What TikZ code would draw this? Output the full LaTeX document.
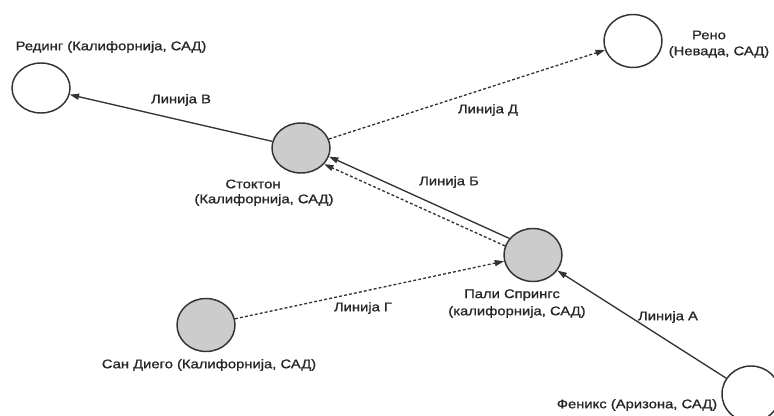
\documentclass[tikz,border=0pt]{standalone}
\usepackage{fontspec}
\setmainfont{Liberation Sans}[FakeStretch=1.18,FakeBold=1.0]
\usetikzlibrary{shapes.geometric,arrows.meta}
\definecolor{edgecol}{HTML}{333333}
\definecolor{gfill}{HTML}{CCCCCC}
\begin{document}
\begin{tikzpicture}[x=0.75pt,y=-0.75pt,
  city/.style={ellipse,draw=edgecol,line width=1.1pt,minimum width=43.5pt,minimum height=39.75pt,inner sep=0pt},
  hub/.style={city,fill=gfill},
  leaf/.style={city,fill=white},
  lbl/.style={font=\fontsize{9.4pt}{11pt}\selectfont,text=black!85,inner sep=0pt},
  solidarrow/.style={draw=edgecol,line width=1pt,-{Triangle[length=7pt,width=4.5pt]}},
  dasharrow/.style={solidarrow,dash pattern=on 2.2pt off 1.6pt}]
\clip (0,0) rectangle (774,416);
\fill[white] (0,0) rectangle (774,416);
% cities
\node[leaf,minimum height=37.5pt] (red) at (41,88) {};
\node[hub,minimum height=37.5pt] (st) at (301,148) {};
\node[leaf] (reno) at (633,41) {};
\node[hub] (ps) at (533,255) {};
\node[hub] (sd) at (206,325) {};
\node[leaf,minimum height=42pt] (phx) at (751,394) {};
% connectors
\draw[solidarrow] (st) -- (red);
\draw[dasharrow] (st) -- (reno);
\draw[solidarrow] (ps.145) -- (st.-17);
\draw[dasharrow] (ps.162) -- (st.-35);
\draw[dasharrow] (sd) -- (ps);
\draw[solidarrow] (phx) -- (ps);
% labels
\node[lbl] (tred) at (111,47) {Рединг (Калифорнија, САД)};
\node[lbl] (lv) at (181,100) {Линија В};
\node[lbl] (tst1) at (253,184) {Стоктон};
\node[lbl] (tst2) at (264,200) {(Калифорнија, САД)};
\node[lbl] (treno1) at (709,35) {Рено};
\node[lbl] (treno2) at (719,52) {(Невада, САД)};
\node[lbl] (ld) at (488,110) {Линија Д};
\node[lbl] (lb) at (449,182) {Линија Б};
\node[lbl] (tps1) at (512,295) {Пали Спрингс};
\node[lbl] (tps2) at (517,312) {(калифорнија, САД)};
\node[lbl] (lg) at (363,308) {Линија Г};
\node[lbl] (la) at (668,317) {Линија А};
\node[lbl] (tsd) at (209,365) {Сан Диего (Калифорнија, САД)};
\node[lbl] (tphx) at (637,405) {Феникс (Аризона, САД)};
\end{tikzpicture}
\end{document}
